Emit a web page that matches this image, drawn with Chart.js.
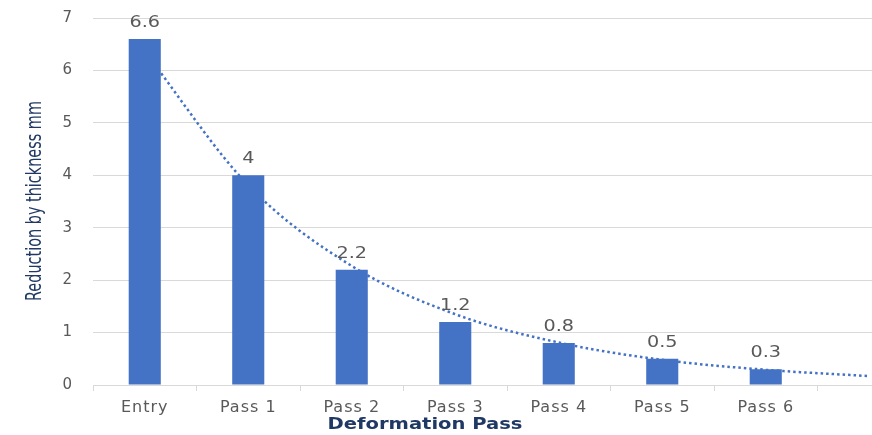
<!DOCTYPE html>
<html>
<head>
<meta charset="utf-8">
<script src="https://cdn.jsdelivr.net/npm/chart.js@4.4.1/dist/chart.umd.min.js"></script>
<style>
  html, body { margin: 0; padding: 0; background: #fff; overflow: hidden; width: 872px; height: 435px; }
  #wrap { position: relative; width: 930px; height: 435px; }
</style>
</head>
<body>
<div id="wrap"><canvas id="c"></canvas></div>
<script>
// Thickness reduction per rolling pass
const categories = ['Entry', 'Pass 1', 'Pass 2', 'Pass 3', 'Pass 4', 'Pass 5', 'Pass 6', ''];
const reduction = [6.6, 4, 2.2, 1.2, 0.8, 0.5, 0.3, null];
// Exponential trendline values at each category
const trend = [6.36, 3.81, 2.27, 1.35, 0.81, 0.48, 0.29, 0.17];
const yTicks = [0, 1, 2, 3, 4, 5, 6, 7];
const xTitle = 'Deformation Pass';
const yTitle = 'Reduction by thickness mm';

const BAR = '#4472C4';
const GRID = '#d9d9d9';
const LABEL = '#595959';
const NAVY = '#1F3864';
const FONT = '"DejaVu Sans", sans-serif';

// Slightly wider glyph spacing for the axis tick text
const spacingPlugin = {
  id: 'spacing',
  beforeDraw(chart) { chart.ctx.letterSpacing = '1px'; },
  afterDraw(chart) { chart.ctx.letterSpacing = '0px'; }
};

// Draw text stretched horizontally by factor sx around (x, y)
function wideText(ctx, text, x, y, sx) {
  ctx.save();
  ctx.translate(x, y);
  ctx.scale(sx, 1);
  ctx.fillText(text, 0, 0);
  ctx.restore();
}

// Value labels above bars and axis titles
const labelPlugin = {
  id: 'labels',
  afterDatasetsDraw(chart) {
    const ctx = chart.ctx;
    const meta = chart.getDatasetMeta(0);
    ctx.save();
    ctx.letterSpacing = '0px';
    ctx.font = '15px ' + FONT;
    ctx.fillStyle = LABEL;
    ctx.textAlign = 'center';
    ctx.textBaseline = 'alphabetic';
    meta.data.forEach((el, i) => {
      const v = reduction[i];
      if (v === null || v === undefined) return;
      wideText(ctx, String(v), el.x, el.y - 12, 1.28);
    });
    ctx.restore();
  },
  afterDraw(chart) {
    const ctx = chart.ctx;
    // x axis title
    ctx.save();
    ctx.letterSpacing = '0px';
    ctx.font = 'bold 15px ' + FONT;
    ctx.fillStyle = NAVY;
    ctx.textAlign = 'center';
    ctx.textBaseline = 'alphabetic';
    const wx = ctx.measureText(xTitle).width;
    wideText(ctx, xTitle, 425, 429, 195 / wx);
    ctx.restore();
    // y axis title, rotated
    ctx.save();
    ctx.letterSpacing = '0px';
    ctx.font = '17px "Liberation Sans Narrow", "DejaVu Sans Condensed", sans-serif';
    ctx.fillStyle = NAVY;
    ctx.textAlign = 'center';
    ctx.textBaseline = 'middle';
    const w = ctx.measureText(yTitle).width;
    ctx.translate(36, 201);
    ctx.rotate(-Math.PI / 2);
    ctx.scale(200 / w, 1.2);
    ctx.fillText(yTitle, 0, 0);
    ctx.restore();
  }
};

new Chart(document.getElementById('c'), {
  type: 'bar',
  data: {
    labels: categories,
    datasets: [
      {
        type: 'bar',
        data: reduction,
        backgroundColor: BAR,
        borderWidth: 0,
        categoryPercentage: 1,
        barPercentage: 0.31,
        order: 1
      },
      {
        type: 'line',
        data: trend,
        borderColor: BAR,
        borderWidth: 2.5,
        borderDash: [2.5, 3],
        pointRadius: 0,
        fill: false,
        cubicInterpolationMode: 'monotone',
        order: 2
      }
    ]
  },
  options: {
    responsive: true,
    maintainAspectRatio: false,
    animation: false,
    layout: { autoPadding: false, padding: { left: 0, right: 9, top: 18, bottom: 0 } },
    plugins: {
      legend: { display: false },
      tooltip: { enabled: false },
      title: { display: false }
    },
    scales: {
      x: {
        type: 'category',
        offset: true,
        grid: {
          offset: true,
          drawOnChartArea: false,
          drawTicks: true,
          tickLength: 6,
          color: GRID,
          lineWidth: 1
        },
        border: { display: true, color: GRID, width: 1 },
        ticks: {
          color: LABEL,
          font: { family: FONT, size: 16 },
          padding: 7,
          maxRotation: 0,
          autoSkip: false
        },
        afterFit(scale) {
          scale.height = 50;
          scale.paddingLeft = 0;
          scale.paddingRight = 0;
        }
      },
      y: {
        min: 0,
        max: 7,
        afterBuildTicks(scale) { scale.ticks = yTicks.map(v => ({ value: v })); },
        grid: { color: GRID, lineWidth: 1, drawTicks: false },
        border: { display: false },
        ticks: {
          color: LABEL,
          font: { family: FONT, size: 15 },
          padding: 20
        },
        afterFit(scale) {
          scale.width = 93;
          scale.paddingTop = 0;
          scale.paddingBottom = 0;
        }
      }
    }
  },
  plugins: [spacingPlugin, labelPlugin]
});
</script>
</body>
</html>
